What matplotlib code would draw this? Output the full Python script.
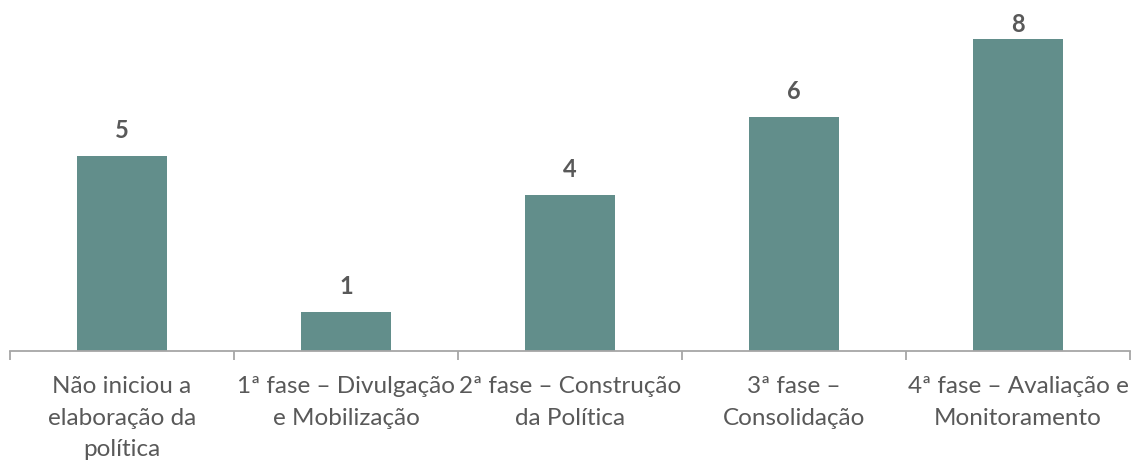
import matplotlib
matplotlib.use("Agg")
import matplotlib.pyplot as plt
import numpy as np

categories = ["Não iniciou a\nelaboração da\npolítica",
              "1ª fase – Divulgação\ne Mobilização",
              "2ª fase – Construção\nda Política",
              "3ª fase –\nConsolidação",
              "4ª fase – Avaliação e\nMonitoramento"]
values = [5, 1, 4, 6, 8]

bar_color = "#628E8B"
text_color = "#595959"
axis_color = "#A6A6A6"

plt.rcParams['font.family'] = ['Lato', 'DejaVu Sans']

fig = plt.figure(figsize=(11.32, 4.62), dpi=100)
ax = fig.add_axes([10/1132, 111/462, 1120/1132, 351/462])

x = np.arange(len(categories))
ax.bar(x, values, width=0.4, color=bar_color)
ymax = 9
ax.set_ylim(0, ymax)
for xi, v in zip(x, values):
    ax.text(xi, min(v + 0.46, ymax - 0.82), str(v), ha='center', va='baseline',
            fontsize=17, fontweight='bold', color=text_color)

ax.set_xlim(-0.5, len(categories) - 0.5)
ax.set_yticks([])
for s in ['top', 'right', 'left']:
    ax.spines[s].set_visible(False)
ax.spines['bottom'].set_color(axis_color)
ax.spines['bottom'].set_linewidth(1.3)

ax.set_xticks(x)
ax.set_xticklabels(categories, fontsize=17.5, color=text_color, linespacing=1.62)
ax.tick_params(axis='x', which='major', length=0, pad=18)
ax.set_xticks(np.arange(-0.5, len(categories)), minor=True)
ax.tick_params(axis='x', which='minor', length=6.5, color=axis_color, width=1.3)

fig.savefig("out.png", dpi=100)
